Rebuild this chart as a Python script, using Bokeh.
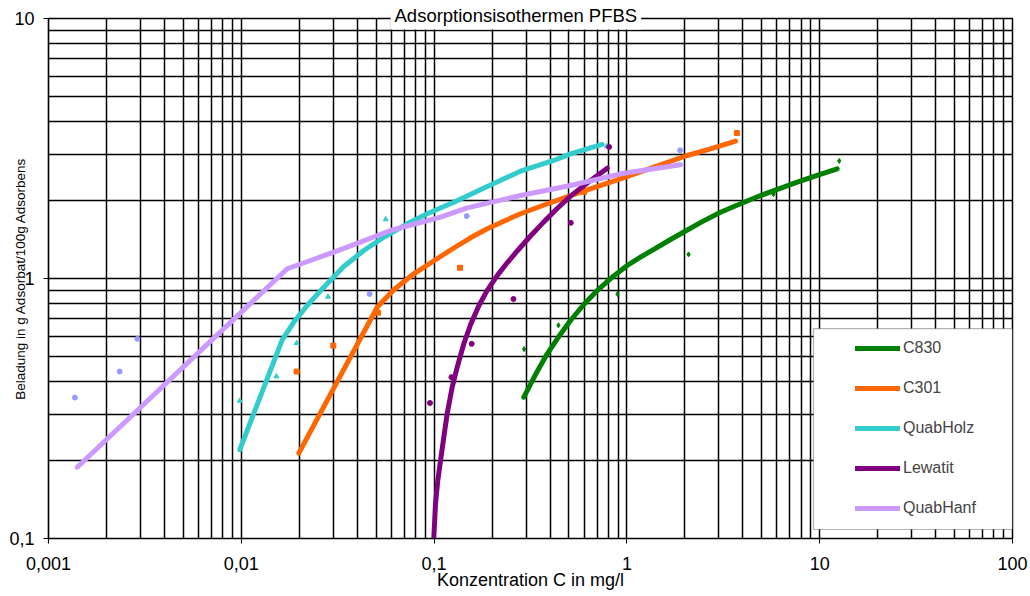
import math
from bokeh.plotting import figure
from bokeh.models import (Range1d, FixedTicker, Legend, LegendItem, Title,
                          BoxAnnotation)
from bokeh.embed import file_html
from bokeh.resources import INLINE

# ---------------- data ----------------
x_ticks = [0.001, 0.01, 0.1, 1, 10, 100]
x_tick_labels = ["0,001", "0,01", "0,1", "1", "10", "100"]
y_ticks = [0.1, 1, 10]
y_tick_labels = ["0,1", "1", "10"]

series_names = ["C830", "C301", "QuabHolz", "Lewatit", "QuabHanf"]
line_colors = ["#008000", "#FF6600", "#33CCCC", "#800080", "#CC99FF"]
point_colors = ["#008000", "#FF6600", "#33CCCC", "#800080", "#9999FF"]
point_markers = ["diamond", "square", "triangle", "circle", "circle"]

# fitted curves
c830_x = [0.292, 0.3357, 0.3861, 0.4435, 0.5099, 0.5977, 0.7015, 0.8389, 1.0035,
          1.176, 1.379, 1.65, 1.973, 2.458, 3.058, 3.884, 4.932, 6.137, 7.643,
          9.705, 12.32]
c830_y = [0.3496, 0.4272, 0.5133, 0.5981, 0.6895, 0.7943, 0.899, 1.012, 1.122,
          1.208, 1.295, 1.40, 1.51, 1.655, 1.799, 1.938, 2.085, 2.213, 2.346,
          2.49, 2.642]

c301_x = [0.01988, 0.0507, 0.0618, 0.0785, 0.108, 0.1266, 0.1545, 0.1886,
          0.2299, 0.2807, 0.3783, 0.5099, 0.6873, 0.9264, 1.379, 2.055, 2.715,
          3.66]
c301_y = [0.2129, 0.7756, 0.9049, 1.0425, 1.215, 1.310, 1.434, 1.553, 1.661,
          1.774, 1.926, 2.085, 2.244, 2.418, 2.68, 2.972, 3.154, 3.374]

holz_x = [0.00982, 0.0163, 0.01873, 0.02197, 0.02679, 0.03401, 0.04319,
          0.05484, 0.07254, 0.09209, 0.1266, 0.1886, 0.2807, 0.4176, 0.5099,
          0.7446]
holz_y = [0.2195, 0.5809, 0.6792, 0.787, 0.926, 1.112, 1.281, 1.441, 1.623,
          1.774, 1.966, 2.259, 2.586, 2.844, 3.017, 3.277]

lew_x = [0.0997, 0.1017, 0.1045, 0.108, 0.1123, 0.1169, 0.1241, 0.1318,
         0.1426, 0.1545, 0.1706, 0.1886, 0.2125, 0.2394, 0.2698, 0.3162,
         0.3707, 0.435, 0.5099, 0.6223, 0.7907]
lew_y = [0.1012, 0.136, 0.167, 0.1995, 0.2453, 0.3017, 0.382, 0.456, 0.561,
         0.664, 0.786, 0.900, 1.026, 1.149, 1.276, 1.457, 1.651, 1.859, 2.074,
         2.328, 2.657]

hanf_x = [0.001409, 0.0173, 0.02285, 0.03018, 0.04152, 0.05941, 0.108,
          0.1485, 0.2807, 0.5099, 0.9264, 1.897]
hanf_y = [0.188, 1.090, 1.173, 1.262, 1.379, 1.530, 1.721, 1.870, 2.085,
          2.279, 2.527, 2.737]

# measured points
c830_px = [0.293, 0.4416, 0.894, 2.088, 5.764, 12.63]
c830_py = [0.535, 0.661, 0.872, 1.238, 2.11, 2.833]

c301_px = [0.01936, 0.03002, 0.0512, 0.1363, 0.5998, 3.718]
c301_py = [0.4386, 0.552, 0.739, 1.10, 2.154, 3.628]

holz_px = [0.00983, 0.0152, 0.01936, 0.02815, 0.0561, 0.786]
holz_py = [0.3386, 0.42, 0.564, 0.851, 1.688, 3.226]

lew_px = [0.0952, 0.123, 0.1567, 0.258, 0.5117, 0.8084]
lew_py = [0.332, 0.4175, 0.5606, 0.834, 1.638, 3.206]

hanf_px = [0.00137, 0.00234, 0.00289, 0.0463, 0.1476, 1.888]
hanf_py = [0.3486, 0.4386, 0.586, 0.872, 1.738, 3.113]

curves = [(c830_x, c830_y), (c301_x, c301_y), (holz_x, holz_y),
          (lew_x, lew_y), (hanf_x, hanf_y)]
points = [(c830_px, c830_py), (c301_px, c301_py), (holz_px, holz_py),
          (lew_px, lew_py), (hanf_px, hanf_py)]

FONT = "Liberation Sans"

# ---------------- figure ----------------
p = figure(width=1030, height=596, x_axis_type="log", y_axis_type="log",
           x_range=Range1d(0.001, 100), y_range=Range1d(0.1, 10),
           output_backend="svg", toolbar_location=None,
           min_border_left=48, min_border_right=18,
           min_border_top=18, min_border_bottom=58)
p.background_fill_color = "white"
p.border_fill_color = "white"
p.outline_line_color = "black"
p.outline_line_width = 1.5

p.title = Title(text="Adsorptionsisothermen PFBS", align="left",
                offset=342, standoff=-22, vertical_align="bottom",
                text_font=FONT, text_font_size="18.5px",
                text_font_style="normal", text_color="black",
                background_fill_color="white", padding=4)
p.title_location = "above"

x_minor = [m * t for t in x_ticks[:-1] for m in range(2, 10)]
y_minor = [m * t for t in y_ticks[:-1] for m in range(2, 10)]
p.xaxis.ticker = FixedTicker(ticks=x_ticks, minor_ticks=x_minor)
p.yaxis.ticker = FixedTicker(ticks=y_ticks, minor_ticks=y_minor)
p.xaxis.major_label_overrides = {t: l for t, l in zip(x_ticks, x_tick_labels)}
p.yaxis.major_label_overrides = {t: l for t, l in zip(y_ticks, y_tick_labels)}

for ax in (p.xaxis, p.yaxis):
    ax.axis_line_color = "black"
    ax.axis_line_width = 1.2
    ax.major_tick_line_color = "black"
    ax.major_tick_in = 0
    ax.major_tick_out = 5
    ax.minor_tick_in = 0
    ax.minor_tick_out = 0
    ax.major_label_text_font = FONT
    ax.major_label_text_font_size = "18px"
    ax.major_label_text_color = "black"
    ax.axis_label_text_font = FONT
    ax.axis_label_text_font_style = "normal"
    ax.axis_label_text_color = "black"
p.xaxis.axis_label_text_font_size = "18px"
p.yaxis.axis_label_text_font_size = "13.5px"
p.xaxis.major_label_standoff = 13
p.yaxis.major_label_standoff = 9
p.xaxis.axis_label = "Konzentration C in mg/l"
p.yaxis.axis_label = "Beladung in g Adsorbat/100g Adsorbens"
p.xaxis.axis_label_standoff = -3
p.yaxis.axis_label_standoff = -22

for g in (p.xgrid, p.ygrid):
    g.grid_line_color = "black"
    g.grid_line_width = 1.5
    g.minor_grid_line_color = "black"
    g.minor_grid_line_width = 1.5

renderers = []
for (cx, cy), (px_, py_), lc, pc, mk in zip(curves, points, line_colors,
                                            point_colors, point_markers):
    p.scatter(px_, py_, marker=mk, size=5, color=pc)
    r = p.line(cx, cy, line_color=lc, line_width=5, line_join="round",
               line_cap="round")
    renderers.append(r)

# legend box + legend
p.add_layout(BoxAnnotation(left=9.29, right=100, bottom=0.1083, top=0.642,
                           fill_color="white", fill_alpha=1.0,
                           line_color="black", line_width=1.2))
legend = Legend(items=[LegendItem(label=n, renderers=[r])
                       for n, r in zip(series_names, renderers)],
                location=(807, 20), orientation="vertical",
                glyph_width=45, glyph_height=20, label_height=20,
                spacing=20, padding=10, label_standoff=3, margin=0,
                border_line_color=None, background_fill_alpha=0,
                label_text_font=FONT, label_text_font_size="16px")
p.add_layout(legend)

open("out.html", "w").write(file_html(p, INLINE))
